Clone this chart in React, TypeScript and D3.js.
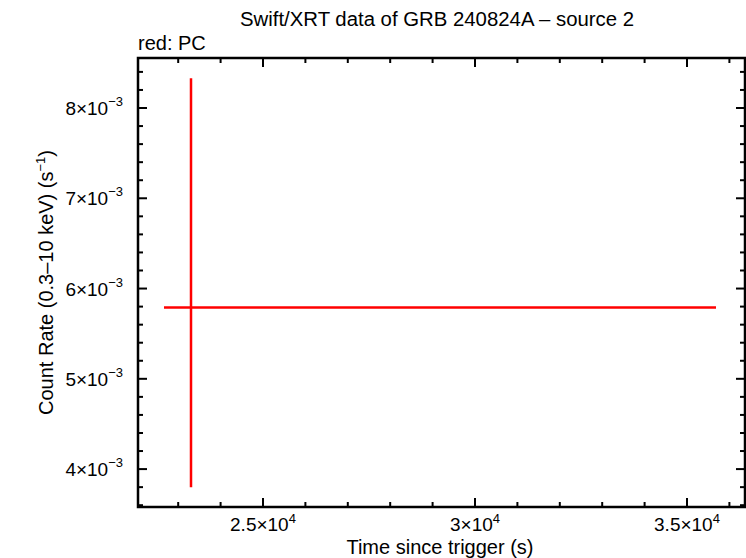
import React from 'react';
import * as d3 from 'd3';

// PC-mode data point: time, time errors, rate, rate errors
const pcTime = [23302];
const pcTimeLo = [22665];
const pcTimeHi = [35684];
const pcRate = [5.79e-3];
const pcRateLo = [3.8e-3];
const pcRateHi = [8.33e-3];

const xMajor = [25000, 30000, 35000];
const xLabels = [['2.5×10', '4'], ['3×10', '4'], ['3.5×10', '4']];
const yMajor = [4e-3, 5e-3, 6e-3, 7e-3, 8e-3];
const yLabels = [['4×10', '−3'], ['5×10', '−3'], ['6×10', '−3'], ['7×10', '−3'], ['8×10', '−3']];

const W = 746;
const H = 558;
const margin = { top: 58, right: 1, bottom: 51, left: 138 };
const font = '"Liberation Sans", Arial, sans-serif';

const App = () => {
  const x = d3.scaleLinear().domain([22052, 36368]).range([margin.left, W - margin.right]);
  const y = d3.scaleLinear().domain([3.58e-3, 8.554e-3]).range([H - margin.bottom, margin.top]);
  const [x0, x1] = x.range();
  const [y0, y1] = y.range();

  const xMinor = d3.range(23000, 36001, 1000).filter((v) => v % 5000 !== 0);
  const yMinor = d3.range(36, 86).map((v) => v * 1e-4).filter((v) => Math.round(v * 1e4) % 10 !== 0 && Math.round(v * 1e4) % 2 === 0);

  return (
    <svg width={W} height={H} style={{ position: 'absolute', left: 0, top: 0 }} fontFamily={font}>
      <rect width={W} height={H} fill="white" />
      <text x={437} y={26} textAnchor="middle" fontSize={20} textLength={394} lengthAdjust="spacingAndGlyphs">Swift/XRT data of GRB 240824A – source 2</text>
      <text x={138} y={50} fontSize={20}>red: PC</text>

      {/* ticks */}
      <g stroke="black" strokeWidth={2}>
        {xMajor.map((v) => (
          <g key={'xM' + v}>
            <line x1={x(v)} x2={x(v)} y1={y0} y2={y0 - 9} />
            <line x1={x(v)} x2={x(v)} y1={y1} y2={y1 + 9} />
          </g>
        ))}
        {xMinor.map((v) => (
          <g key={'xm' + v}>
            <line x1={x(v)} x2={x(v)} y1={y0} y2={y0 - 5} />
            <line x1={x(v)} x2={x(v)} y1={y1} y2={y1 + 5} />
          </g>
        ))}
        {yMajor.map((v) => (
          <g key={'yM' + v}>
            <line x1={x0} x2={x0 + 9} y1={y(v)} y2={y(v)} />
            <line x1={x1} x2={x1 - 9} y1={y(v)} y2={y(v)} />
          </g>
        ))}
        {yMinor.map((v) => (
          <g key={'ym' + v}>
            <line x1={x0} x2={x0 + 5} y1={y(v)} y2={y(v)} />
            <line x1={x1} x2={x1 - 5} y1={y(v)} y2={y(v)} />
          </g>
        ))}
      </g>
      <rect x={x0} y={y1} width={x1 - x0} height={y0 - y1} fill="none" stroke="black" strokeWidth={2.5} />

      {/* tick labels */}
      {xMajor.map((v, i) => (
        <text key={'xl' + v} x={x(v)} y={y0 + 24} textAnchor="middle" fontSize={19}>
          {xLabels[i][0]}
          <tspan fontSize={13} dy={-8}>{xLabels[i][1]}</tspan>
        </text>
      ))}
      {yMajor.map((v, i) => (
        <text key={'yl' + v} x={x0 - 15} y={y(v) + 7} textAnchor="end" fontSize={19}>
          {yLabels[i][0]}
          <tspan fontSize={13} dy={-9}>{yLabels[i][1]}</tspan>
        </text>
      ))}

      {/* axis titles */}
      <text x={440} y={554} textAnchor="middle" fontSize={20}>Time since trigger (s)</text>
      <text transform={`translate(53, ${(y0 + y1) / 2}) rotate(-90)`} textAnchor="middle" fontSize={20}>
        Count Rate (0.3–10 keV) (s<tspan fontSize={13} dy={-8}>−1</tspan><tspan dy={8}>)</tspan>
      </text>

      {/* data */}
      <g stroke="#ff0000" strokeWidth={2.5}>
        {pcTime.map((t, i) => (
          <g key={'pc' + i}>
            <line x1={x(pcTimeLo[i])} x2={x(pcTimeHi[i])} y1={y(pcRate[i])} y2={y(pcRate[i])} />
            <line x1={x(t)} x2={x(t)} y1={y(pcRateLo[i])} y2={y(pcRateHi[i])} />
          </g>
        ))}
      </g>
    </svg>
  );
};

export default App;
